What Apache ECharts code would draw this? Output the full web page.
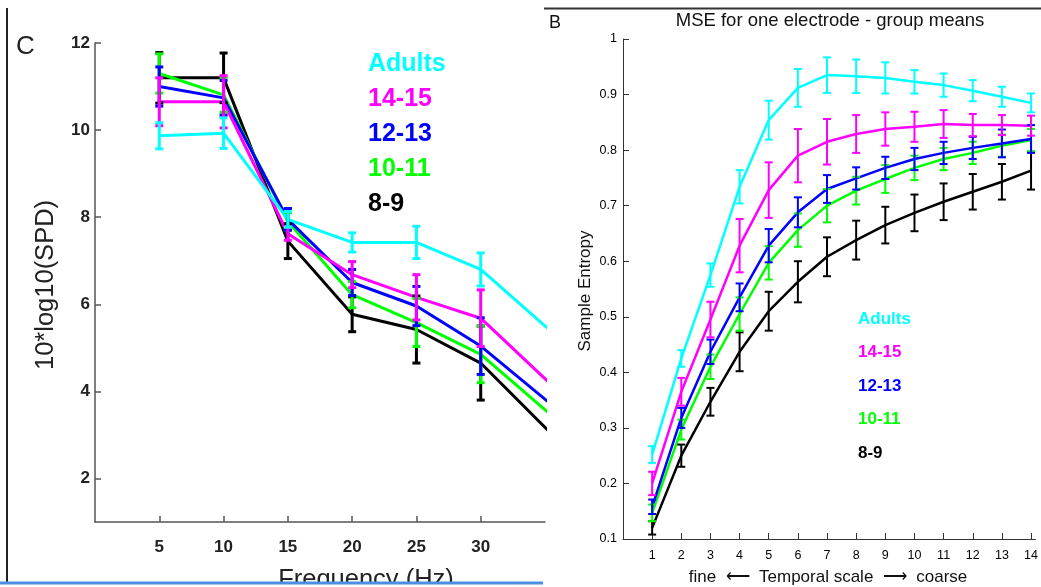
<!DOCTYPE html>
<html><head><meta charset="utf-8">
<script src="https://cdn.jsdelivr.net/npm/echarts@6/dist/echarts.min.js"></script>
<style>html,body{margin:0;padding:0;background:#fff}#c{width:1041px;height:587px}</style>
</head><body><div id="c"></div>
<script>
// ---------- shared ----------
const groups = ['Adults', '14-15', '12-13', '10-11', '8-9'];
const groupColors = ['#00FFFF', '#FF00FF', '#0000FF', '#00FF00', '#000000'];

// ---------- Panel C : spectral power density ----------
const freqHz = [5, 10, 15, 20, 25, 30, 40];
const spdAdults = [9.87, 9.93, 7.95, 7.42, 7.42, 6.80, 4.2];
const spdAdultsErr = [0.30, 0.35, 0.18, 0.22, 0.37, 0.38, 0.4];
const spd1415 = [10.65, 10.65, 7.62, 6.68, 6.16, 5.68, 2.9];
const spd1415Err = [0.55, 0.60, 0.15, 0.30, 0.52, 0.65, 0.6];
const spd1213 = [11.00, 10.74, 7.95, 6.50, 5.96, 5.04, 2.6];
const spd1213Err = [0.45, 0.40, 0.25, 0.30, 0.45, 0.65, 0.6];
const spd1011 = [11.30, 10.81, 7.90, 6.22, 5.58, 4.85, 2.3];
const spd1011Err = [0.45, 0.40, 0.20, 0.30, 0.55, 0.65, 0.6];
const spd89 = [11.20, 11.20, 7.45, 5.77, 5.42, 4.65, 1.7];
const spd89Err = [0.58, 0.57, 0.40, 0.40, 0.77, 0.85, 0.8];
const spdXTicks = [5, 10, 15, 20, 25, 30];
const spdYTicks = [2, 4, 6, 8, 10, 12];

// ---------- Panel B : multiscale entropy ----------
const scales = [1, 2, 3, 4, 5, 6, 7, 8, 9, 10, 11, 12, 13, 14];
const mseAdults = [0.252, 0.425, 0.575, 0.734, 0.854, 0.912, 0.935, 0.933, 0.930, 0.923, 0.917, 0.907, 0.896, 0.885];
const mseAdultsErr = [0.015, 0.015, 0.021, 0.030, 0.035, 0.034, 0.032, 0.030, 0.028, 0.021, 0.021, 0.019, 0.018, 0.017];
const mse1415 = [0.200, 0.365, 0.495, 0.628, 0.728, 0.790, 0.815, 0.829, 0.838, 0.842, 0.847, 0.845, 0.845, 0.844];
const mse1415Err = [0.021, 0.025, 0.032, 0.048, 0.050, 0.048, 0.041, 0.034, 0.030, 0.027, 0.025, 0.020, 0.018, 0.018];
const mse1213 = [0.158, 0.318, 0.437, 0.535, 0.628, 0.688, 0.730, 0.749, 0.768, 0.784, 0.795, 0.804, 0.812, 0.820];
const mse1213Err = [0.013, 0.018, 0.022, 0.025, 0.030, 0.027, 0.025, 0.020, 0.020, 0.020, 0.020, 0.020, 0.025, 0.025];
const mse1011 = [0.147, 0.297, 0.410, 0.505, 0.597, 0.656, 0.700, 0.727, 0.748, 0.768, 0.784, 0.795, 0.808, 0.818];
const mse1011Err = [0.015, 0.018, 0.022, 0.030, 0.030, 0.030, 0.030, 0.025, 0.025, 0.022, 0.020, 0.020, 0.020, 0.020];
const mse89 = [0.120, 0.250, 0.347, 0.437, 0.510, 0.563, 0.608, 0.638, 0.665, 0.687, 0.707, 0.725, 0.743, 0.763];
const mse89Err = [0.012, 0.020, 0.025, 0.035, 0.035, 0.037, 0.035, 0.035, 0.033, 0.033, 0.033, 0.032, 0.032, 0.034];
const mseXTicks = [1, 2, 3, 4, 5, 6, 7, 8, 9, 10, 11, 12, 13, 14];
const mseYTicks = [0.1, 0.2, 0.3, 0.4, 0.5, 0.6, 0.7, 0.8, 0.9, 1];

const spdMeans = [spdAdults, spd1415, spd1213, spd1011, spd89];
const spdErrs = [spdAdultsErr, spd1415Err, spd1213Err, spd1011Err, spd89Err];
const mseMeans = [mseAdults, mse1415, mse1213, mse1011, mse89];
const mseErrs = [mseAdultsErr, mse1415Err, mse1213Err, mse1011Err, mse89Err];

function errRender(color, w, cap) {
  return function (params, api) {
    const x = api.value(0), y = api.value(1), e = api.value(2);
    const t = api.coord([x, y + e]), b = api.coord([x, y - e]);
    const style = { stroke: color, lineWidth: w, fill: null };
    return { type: 'group', children: [
      { type: 'line', shape: { x1: t[0], y1: t[1], x2: b[0], y2: b[1] }, style },
      { type: 'line', shape: { x1: t[0] - cap, y1: t[1], x2: t[0] + cap, y2: t[1] }, style },
      { type: 'line', shape: { x1: b[0] - cap, y1: b[1], x2: b[0] + cap, y2: b[1] }, style }
    ]};
  };
}

const series = [];
for (let i = groups.length - 1; i >= 0; i--) {
  series.push({
    name: groups[i], type: 'line', xAxisIndex: 0, yAxisIndex: 0,
    data: freqHz.map((f, j) => [f, spdMeans[i][j]]),
    showSymbol: false, symbol: 'none', clip: true,
    lineStyle: { color: groupColors[i], width: 3 }, z: 2
  });
  series.push({
    type: 'custom', xAxisIndex: 0, yAxisIndex: 0, clip: true,
    data: freqHz.map((f, j) => [f, spdMeans[i][j], spdErrs[i][j]]),
    encode: { x: 0, y: 1 }, renderItem: errRender(groupColors[i], 3, 4), z: 3
  });
}
for (let i = groups.length - 1; i >= 0; i--) {
  series.push({
    name: groups[i], type: 'line', xAxisIndex: 1, yAxisIndex: 1,
    data: scales.map((s, j) => [s, mseMeans[i][j]]),
    showSymbol: false, symbol: 'none', clip: true,
    lineStyle: { color: groupColors[i], width: 2.5 }, z: 2
  });
  series.push({
    type: 'custom', xAxisIndex: 1, yAxisIndex: 1, clip: false,
    data: scales.map((s, j) => [s, mseMeans[i][j], mseErrs[i][j]]),
    encode: { x: 0, y: 1 }, renderItem: errRender(groupColors[i], 2, 4), z: 3
  });
}

const sansFont = 'Liberation Sans';

const graphic = [
  // panel frames
  { type: 'line', shape: { x1: 7, y1: 8, x2: 7, y2: 582 }, style: { stroke: '#222', lineWidth: 2 }, z: 10 },
  { type: 'line', shape: { x1: 544, y1: 8.5, x2: 1041, y2: 8.5 }, style: { stroke: '#333', lineWidth: 2 }, z: 10 },
  { type: 'text', x: 16, y: 47, style: { text: 'C', font: '26px "Liberation Sans"', fill: '#222', textVerticalAlign: 'middle' }, z: 10 },
  { type: 'text', x: 549, y: 23, style: { text: 'B', font: '18px "Liberation Sans"', fill: '#111', textVerticalAlign: 'middle' }, z: 10 },
  // titles / axis names
  { type: 'text', x: 830, y: 21, style: { text: 'MSE for one electrode - group means', font: '18.5px "Liberation Sans"', fill: '#111', textAlign: 'center', textVerticalAlign: 'middle' }, z: 10 },
  { type: 'text', x: 46, y: 285, rotation: Math.PI / 2, style: { text: '10*log10(SPD)', font: '25.5px "Liberation Sans"', fill: '#222', textAlign: 'center', textVerticalAlign: 'middle' }, z: 10 },
  { type: 'text', x: 366, y: 580, style: { text: 'Frequency (Hz)', font: '25.5px "Liberation Sans"', fill: '#222', textAlign: 'center', textVerticalAlign: 'middle' }, z: 10 },
  { type: 'text', x: 585, y: 291, rotation: Math.PI / 2, style: { text: 'Sample Entropy', font: '17px "Liberation Sans"', fill: '#111', textAlign: 'center', textVerticalAlign: 'middle' }, z: 10 },
  { type: 'text', x: 828, y: 577, style: { text: 'fine  \u27F5  Temporal scale  \u27F6  coarse', font: '17px "Liberation Sans"', fill: '#111', textAlign: 'center', textVerticalAlign: 'middle' }, z: 10 },
  // bottom cut & blue rule
  { type: 'rect', shape: { x: 0, y: 584, width: 545, height: 3 }, style: { fill: '#fff' }, z: 20 },
  { type: 'line', shape: { x1: 0, y1: 583, x2: 543, y2: 583 }, style: { stroke: '#4A90E2', lineWidth: 3 }, z: 21 }
];
groups.forEach((g, i) => {
  graphic.push({ type: 'text', x: 368, y: 64 + i * 35, style: { text: g, font: 'bold 25px "Liberation Sans"', fill: groupColors[i], textVerticalAlign: 'middle' }, z: 10 });
  graphic.push({ type: 'text', x: 858, y: 319 + i * 33.5, style: { text: g, font: 'bold 17px "Liberation Sans"', fill: groupColors[i], textVerticalAlign: 'middle' }, z: 10 });
});

const option = {
  backgroundColor: '#fff',
  animation: false,
  grid: [
    { left: 95, top: 43, width: 450, height: 479, containLabel: false },
    { left: 623, top: 39, width: 414.6, height: 500, containLabel: false }
  ],
  xAxis: [
    { gridIndex: 0, type: 'value', min: 0, max: 35,
      splitLine: { show: false },
      axisLine: { lineStyle: { color: '#555', width: 1.5 } },
      axisTick: { inside: true, length: 6, customValues: spdXTicks, lineStyle: { color: '#555', width: 1.5 } },
      axisLabel: { customValues: spdXTicks, color: '#222', fontFamily: sansFont, fontWeight: 'bold', fontSize: 17, margin: 17 } },
    { gridIndex: 1, type: 'value', min: 0, max: 14.15,
      splitLine: { show: false },
      axisLine: { lineStyle: { color: '#333', width: 1 } },
      axisTick: { inside: true, length: 6, customValues: mseXTicks, lineStyle: { color: '#333' } },
      axisLabel: { customValues: mseXTicks, color: '#000', fontFamily: sansFont, fontSize: 12.5, margin: 10 } }
  ],
  yAxis: [
    { gridIndex: 0, type: 'value', min: 1, max: 12,
      splitLine: { show: false },
      axisLine: { show: true, lineStyle: { color: '#555', width: 1.5 } },
      axisTick: { show: true, inside: true, length: 6, customValues: spdYTicks, lineStyle: { color: '#555', width: 1.5 } },
      axisLabel: { customValues: spdYTicks, color: '#222', fontFamily: sansFont, fontWeight: 'bold', fontSize: 17, margin: 5 } },
    { gridIndex: 1, type: 'value', min: 0.1, max: 1,
      splitLine: { show: false },
      axisLine: { show: true, lineStyle: { color: '#333', width: 1 } },
      axisTick: { show: true, inside: true, length: 6, customValues: mseYTicks, lineStyle: { color: '#333' } },
      axisLabel: { customValues: mseYTicks, color: '#000', fontFamily: sansFont, fontSize: 12.5, margin: 6,
        formatter: v => (Math.abs(v - 1) < 1e-9 ? '1' : (+v).toFixed(1)) } }
  ],
  graphic: graphic,
  series: series
};
const chart = echarts.init(document.getElementById('c'), null, { renderer: 'canvas' });
chart.setOption(option);
</script>
</body></html>
